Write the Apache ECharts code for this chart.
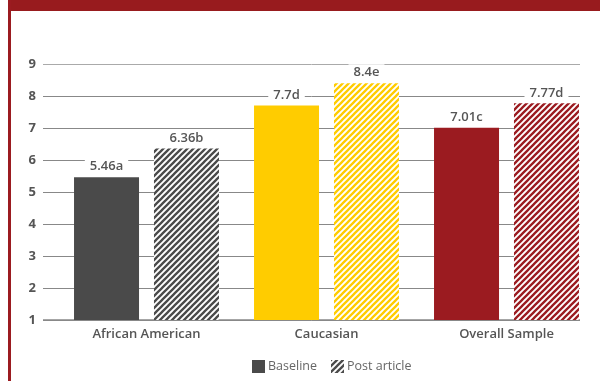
<!DOCTYPE html>
<html><head><meta charset="utf-8">
<script src="https://cdn.jsdelivr.net/npm/echarts@6/dist/echarts.min.js"></script>
<style>html,body{margin:0;padding:0;background:#fff}#c{width:600px;height:381px}</style>
</head><body><div id="c"></div>
<script>
var categories = ['African American', 'Caucasian', 'Overall Sample'];
var baselineValues = [5.46, 7.7, 7.01];
var postValues = [6.36, 8.4, 7.77];
var baselineLetters = ['a', 'd', 'c'];
var postLetters = ['b', 'e', 'd'];
var groupColors = ['#4a4a4a', '#FFCC00', '#9B1B20'];
var seriesNames = ['Baseline', 'Post article'];
var yTicks = [1, 9, 1];

function hatch(col) {
  var c = document.createElement('canvas');
  c.width = 6; c.height = 6;
  var g = c.getContext('2d');
  g.fillStyle = '#fff'; g.fillRect(0, 0, 6, 6);
  g.strokeStyle = col; g.lineWidth = 2.3;
  g.beginPath();
  g.moveTo(-3, 3); g.lineTo(3, -3);
  g.moveTo(-3, 9); g.lineTo(9, -3);
  g.moveTo(3, 9); g.lineTo(9, 3);
  g.stroke();
  return { image: c, repeat: 'repeat' };
}

var chart = echarts.init(document.getElementById('c'), null, { renderer: 'canvas' });
var font = '"Open Sans", sans-serif';
var labelStyle = {
  show: true, position: 'top', distance: 3, color: '#555', fontSize: 13, fontWeight: 600,
  fontFamily: font, backgroundColor: '#fff', padding: [2, 5, 1, 5]
};
chart.setOption({
  animation: false,
  graphic: [
    { type: 'rect', shape: { x: 8, y: 0, width: 592, height: 11 }, style: { fill: '#981B1E' }, z: 100 },
    { type: 'rect', shape: { x: 8, y: 0, width: 3, height: 381 }, style: { fill: '#9B1B20' }, z: 100 }
  ],
  grid: [
    { left: 43, right: 20, top: 64, bottom: 61 },
    { left: 56.5, right: 3.5, top: 64, bottom: 61 }
  ],
  legend: {
    top: 355, left: 247, itemWidth: 13, itemHeight: 13, itemGap: 14, icon: 'rect',
    textStyle: { color: '#666', fontSize: 12.5, fontFamily: font, padding: [0, 0, 0, -2] },
    data: seriesNames
  },
  xAxis: [
    { gridIndex: 0, type: 'value', min: 0, max: 1, show: false },
    { gridIndex: 1, type: 'category', data: categories,
      axisLine: { show: false }, axisTick: { show: false },
      axisLabel: { color: '#555', fontSize: 13, fontWeight: 600, fontFamily: font, margin: 8 } }
  ],
  yAxis: [
    { gridIndex: 0, type: 'value', min: yTicks[0], max: yTicks[1], interval: yTicks[2],
      axisLine: { show: false }, axisTick: { show: false },
      axisLabel: { color: '#555', fontSize: 13, fontWeight: 700, fontFamily: font, margin: 7 },
      splitLine: { lineStyle: { color: ['#888', '#888', '#888', '#888', '#888', '#888', '#888', '#888', '#aaa'], width: 1 } } },
    { gridIndex: 1, type: 'value', min: yTicks[0], max: yTicks[1], interval: yTicks[2], show: false, splitLine: { show: false } }
  ],
  series: [
    { type: 'line', xAxisIndex: 0, yAxisIndex: 0, data: [[0, 1], [1, 1]], symbol: 'none',
      lineStyle: { color: '#888', width: 1.5 }, silent: true, z: 1, legendHoverLink: false },
    { name: seriesNames[0], type: 'bar', xAxisIndex: 1, yAxisIndex: 1, barWidth: 65, barGap: '23%',
      itemStyle: { color: groupColors[0] }, z: 5,
      data: baselineValues.map(function (v, i) { return { value: v, itemStyle: { color: groupColors[i] } }; }),
      label: Object.assign({}, labelStyle, { formatter: function (p) { return p.value + baselineLetters[p.dataIndex]; } }) },
    { name: seriesNames[1], type: 'bar', xAxisIndex: 1, yAxisIndex: 1, barWidth: 65, barGap: '23%',
      itemStyle: { color: hatch(groupColors[0]) }, z: 5,
      data: postValues.map(function (v, i) { return { value: v, itemStyle: { color: hatch(groupColors[i]) } }; }),
      label: Object.assign({}, labelStyle, { formatter: function (p) { return p.value + postLetters[p.dataIndex]; } }) }
  ]
});
</script></body></html>
